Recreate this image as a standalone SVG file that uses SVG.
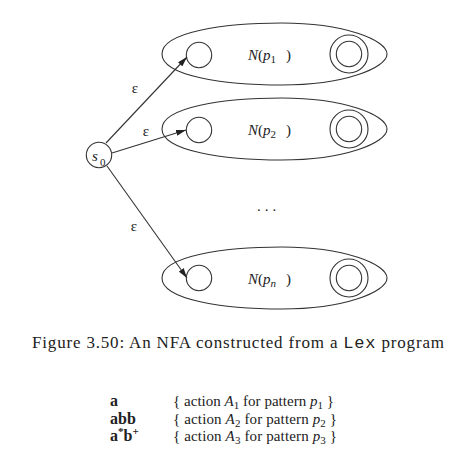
<svg xmlns="http://www.w3.org/2000/svg" width="475" height="469" viewBox="0 0 475 469">
<defs>
<style>
.ln{fill:none;stroke:#333;stroke-width:1.1}
.t{font-family:"Liberation Serif","Times New Roman",serif;fill:#222}
.i{font-style:italic}
.b{font-weight:bold}
.m{font-family:"Liberation Mono",monospace}
</style>
<marker id="ah" viewBox="0 0 10 6" refX="10" refY="3" markerWidth="10" markerHeight="6" markerUnits="userSpaceOnUse" orient="auto">
<path d="M0,0 L10,3 L0,6 Z" fill="#222"/>
</marker>
<path id="egg" d="M-112,0 C-112,-22 -50,-31 8,-31 C70,-31 113,-14 113,0 C113,14 70,31 8,31 C-50,31 -112,22 -112,0 Z"/>
</defs>
<rect width="475" height="469" fill="#fff"/>

<g id="connectors">
<line class="ln" x1="106" y1="143" x2="187" y2="57" marker-end="url(#ah)"/>
<line class="ln" x1="112" y1="153" x2="186" y2="130" marker-end="url(#ah)"/>
<line class="ln" x1="107" y1="166" x2="187" y2="278" marker-end="url(#ah)"/>
<text class="t" font-family="Liberation Serif, serif" x="135" y="93" font-size="15" text-anchor="middle">ε</text>
<text class="t" font-family="Liberation Serif, serif" x="146" y="136" font-size="15" text-anchor="middle">ε</text>
<text class="t" font-family="Liberation Serif, serif" x="134" y="231" font-size="15" text-anchor="middle">ε</text>
</g>

<g id="s0">
<circle class="ln" cx="99" cy="155" r="12.7"/>
<text class="t i" font-family="Liberation Serif, serif" x="92" y="161" font-size="15">s</text>
<text class="t" font-family="Liberation Serif, serif" x="100" y="166" font-size="11">0</text>
</g>

<g id="N1">
<use href="#egg" class="ln" x="274" y="54"/>
<circle class="ln" cx="199" cy="55" r="12.7"/>
<circle class="ln" cx="349" cy="54" r="19"/>
<circle class="ln" cx="349" cy="54" r="12.7"/>
<text class="t" font-family="Liberation Serif, serif" x="248" y="60" font-size="15"><tspan class="i">N</tspan>(<tspan class="i">p</tspan><tspan font-size="11" dy="3">1</tspan><tspan dy="-3" x="286">)</tspan></text>
</g>

<g id="N2">
<use href="#egg" class="ln" x="274" y="129"/>
<circle class="ln" cx="199" cy="130" r="12.7"/>
<circle class="ln" cx="349" cy="129" r="19"/>
<circle class="ln" cx="349" cy="129" r="12.7"/>
<text class="t" font-family="Liberation Serif, serif" x="248" y="135" font-size="15"><tspan class="i">N</tspan>(<tspan class="i">p</tspan><tspan font-size="11" dy="3">2</tspan><tspan dy="-3" x="286">)</tspan></text>
</g>

<g id="dots">
<text class="t" font-family="Liberation Serif, serif" x="257" y="211" font-size="15" letter-spacing="4">...</text>
</g>

<g id="Nn">
<use href="#egg" class="ln" x="274" y="278"/>
<circle class="ln" cx="199" cy="278" r="12.7"/>
<circle class="ln" cx="349" cy="278" r="19"/>
<circle class="ln" cx="349" cy="278" r="12.7"/>
<text class="t" font-family="Liberation Serif, serif" x="248" y="284" font-size="15"><tspan class="i">N</tspan>(<tspan class="i">p</tspan><tspan font-size="11" dy="3" class="i">n</tspan><tspan dy="-3" x="286">)</tspan></text>
</g>

<g id="caption">
<text class="t" font-family="Liberation Serif, serif" x="32" y="348" font-size="17" textLength="412" lengthAdjust="spacing">Figure 3.50: An NFA constructed from a <tspan class="m" font-family="Liberation Mono, monospace">Lex</tspan> program</text>
</g>

<g id="program">
<text class="t b" font-family="Liberation Serif, serif" x="110" y="406" font-size="16">a</text>
<text class="t b" font-family="Liberation Serif, serif" x="110" y="423.5" font-size="16">abb</text>
<text class="t b" font-family="Liberation Serif, serif" x="110" y="441" font-size="16">a<tspan font-size="11" dy="-6">*</tspan><tspan dy="6">b</tspan><tspan font-size="11" dy="-6">+</tspan></text>
<text class="t" font-family="Liberation Serif, serif" x="173" y="406" font-size="15" textLength="161" lengthAdjust="spacing">{ action <tspan class="i">A</tspan><tspan font-size="11" dy="3">1</tspan><tspan dy="-3"> for pattern </tspan><tspan class="i">p</tspan><tspan font-size="11" dy="3">1</tspan><tspan dy="-3"> }</tspan></text>
<text class="t" font-family="Liberation Serif, serif" x="173" y="423.5" font-size="15" textLength="164" lengthAdjust="spacing">{ action <tspan class="i">A</tspan><tspan font-size="11" dy="3">2</tspan><tspan dy="-3"> for pattern </tspan><tspan class="i">p</tspan><tspan font-size="11" dy="3">2</tspan><tspan dy="-3"> }</tspan></text>
<text class="t" font-family="Liberation Serif, serif" x="173" y="441" font-size="15" textLength="164" lengthAdjust="spacing">{ action <tspan class="i">A</tspan><tspan font-size="11" dy="3">3</tspan><tspan dy="-3"> for pattern </tspan><tspan class="i">p</tspan><tspan font-size="11" dy="3">3</tspan><tspan dy="-3"> }</tspan></text>
</g>
</svg>
